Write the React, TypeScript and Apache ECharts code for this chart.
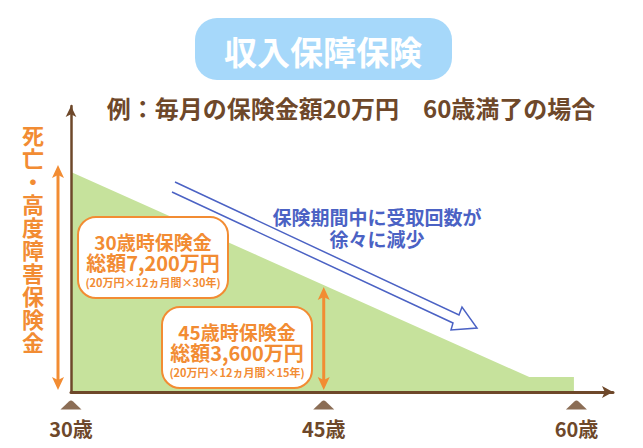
import React, { useEffect, useRef } from 'react';
import * as echarts from 'echarts';

// payout curve (age -> remaining total payout, 万円)
const ages = [30, 57.2, 59.85, 59.85];
const amounts = [7200, 490, 490, 0];

// x-axis ticks
const tickAges = [30, 45, 60];

// vertical orange arrows (age, total)
const markerAges = [30, 45];
const markerAmounts = [7200, 3600];

// callout boxes
const boxTitles = ['30歳時保険金', '45歳時保険金'];
const boxTotals = ['総額7,200万円', '総額3,600万円'];
const boxNotes = ['(20万円×12ヵ月間×30年)', '(20万円×12ヵ月間×15年)'];

const title = '収入保障保険';
const subtitle = '例：毎月の保険金額20万円　60歳満了の場合';
const yLabel = '死亡・高度障害保険金';
const trendLabel = ['保険期間中に受取回数が', '徐々に減少'];

const FONT = '"Noto Sans CJK JP", "Noto Sans", sans-serif';
const BROWN = '#6e482a';
const ORANGE = '#f28c33';
const GREEN = '#c6e29c';
const BLUE = '#4b62c4';
const SKY = '#a6d8fa';

const X_MAX = 62.17;
const Y_MAX = 9360;

const App: React.FC = () => {
  const chartRef = useRef<HTMLDivElement>(null);

  useEffect(() => {
    if (!chartRef.current) return;
    const chart = echarts.init(chartRef.current, null, { renderer: 'svg' });

    const option = {
      animation: false,
      backgroundColor: '#ffffff',
      grid: [
        { left: 71, top: 106, width: 542, height: 286 },
        { left: 71, top: 398, width: 542, height: 14 }
      ],
      xAxis: [
        {
          type: 'value',
          gridIndex: 0,
          min: 30,
          max: X_MAX,
          z: 5,
          axisLine: {
            show: true,
            lineStyle: { color: BROWN, width: 3 },
            symbol: ['none', 'arrow'],
            symbolSize: [9, 11]
          },
          axisTick: { show: false },
          splitLine: { show: false },
          axisLabel: {
            customValues: tickAges,
            formatter: (v: number) => `${v}歳`,
            color: BROWN,
            fontSize: 20,
            fontWeight: 'bold',
            fontFamily: FONT,
            margin: 26
          }
        },
        { type: 'value', gridIndex: 1, min: 30, max: X_MAX, show: false }
      ],
      yAxis: [
        {
          type: 'value',
          gridIndex: 0,
          min: 0,
          max: Y_MAX,
          z: 5,
          axisLine: {
            show: true,
            lineStyle: { color: BROWN, width: 2.5 },
            symbol: ['none', 'arrow'],
            symbolSize: [8, 11]
          },
          axisTick: { show: false },
          axisLabel: { show: false },
          splitLine: { show: false }
        },
        { type: 'value', gridIndex: 1, min: 0, max: 1, show: false }
      ],
      series: [
        {
          type: 'line',
          data: ages.map((a, i) => [a, amounts[i]]),
          symbol: 'none',
          lineStyle: { width: 0 },
          areaStyle: { color: GREEN, opacity: 1 },
          z: 1
        },
        {
          type: 'scatter',
          xAxisIndex: 1,
          yAxisIndex: 1,
          data: tickAges.map(a => [a, 0.5]),
          symbol: 'path://M0,10 L8,1.6 Q10,-0.4 12,1.6 L20,10 Z',
          symbolSize: [21, 9],
          itemStyle: { color: BROWN }
        }
      ]
    } as any;

    chart.setOption(option);

    // orange double-headed arrow
    const arrow = (x: number, y1: number, y2: number) => ({
      type: 'group',
      children: [
        {
          type: 'line',
          z: 20,
          shape: { x1: x, y1: y1 + 6, x2: x, y2: y2 - 6 },
          style: { stroke: ORANGE, lineWidth: 3 }
        },
        {
          type: 'polygon',
          z: 20,
          shape: { points: [[x, y1], [x - 6, y1 + 13], [x, y1 + 10], [x + 6, y1 + 13]] },
          style: { fill: ORANGE }
        },
        {
          type: 'polygon',
          z: 20,
          shape: { points: [[x, y2], [x - 6, y2 - 13], [x, y2 - 10], [x + 6, y2 - 13]] },
          style: { fill: ORANGE }
        }
      ]
    });

    const arrowOffsets = [[-13, -7], [0, 5]];
    const arrows = markerAges.map((age, i) => {
      const top = chart.convertToPixel({ gridIndex: 0 }, [age, markerAmounts[i]]);
      const bottom = chart.convertToPixel({ gridIndex: 0 }, [age, 0]);
      const x = top[0] + arrowOffsets[i][0];
      return arrow(x, top[1] + arrowOffsets[i][1], bottom[1] - 2);
    });

    const boxPos = [[78, 217], [162, 307]];
    const boxes = boxPos.map(([bx, by], i) => ({
      type: 'group',
      children: [
        {
          type: 'rect',
          z: 20,
          shape: { x: bx, y: by, width: 150, height: 81, r: 18 },
          style: { fill: '#ffffff', stroke: ORANGE, lineWidth: 2 }
        },
        {
          type: 'text',
          z: 21,
          x: bx + 75,
          y: by + 24,
          style: {
            text: boxTitles[i], fill: ORANGE, fontSize: 19, fontWeight: 'bold',
            fontFamily: FONT, align: 'center', verticalAlign: 'middle'
          }
        },
        {
          type: 'text',
          z: 21,
          x: bx + 75,
          y: by + 45,
          style: {
            text: boxTotals[i], fill: ORANGE, fontSize: 20, fontWeight: 'bold',
            fontFamily: FONT, align: 'center', verticalAlign: 'middle'
          }
        },
        {
          type: 'text',
          z: 21,
          x: bx + 75,
          y: by + 65,
          style: {
            text: boxNotes[i], fill: ORANGE, fontSize: 11, fontWeight: 'bold',
            fontFamily: FONT, align: 'center', verticalAlign: 'middle'
          }
        }
      ]
    }));

    chart.setOption({
      graphic: [
        {
          type: 'rect',
          shape: { x: 195, y: 18, width: 257, height: 62, r: 22 },
          style: { fill: SKY }
        },
        {
          type: 'text',
          x: 323,
          y: 51,
          style: {
            text: title, fill: '#ffffff', fontSize: 33, fontWeight: 'bold',
            fontFamily: FONT, align: 'center', verticalAlign: 'middle'
          }
        },
        {
          type: 'text',
          x: 351,
          y: 107,
          style: {
            text: subtitle, fill: BROWN, fontSize: 24, fontWeight: 'bold',
            fontFamily: FONT, align: 'center', verticalAlign: 'middle'
          }
        },
        {
          type: 'text',
          x: 33,
          y: 237,
          style: {
            text: yLabel.split('').join('\n'), fill: ORANGE, fontSize: 22, lineHeight: 23,
            fontWeight: 'bold', fontFamily: FONT, align: 'center', verticalAlign: 'middle'
          }
        },
        {
          type: 'text',
          x: 377,
          y: 227,
          z: 20,
          style: {
            text: trendLabel.join('\n'), fill: BLUE, fontSize: 19, lineHeight: 22,
            fontWeight: 'bold', fontFamily: FONT, align: 'center', verticalAlign: 'middle'
          }
        },
        {
          type: 'polyline',
          z: 20,
          shape: {
            points: [[175, 182], [459, 315], [462, 307], [477, 328], [451, 330], [453, 323], [172, 192]]
          },
          style: { stroke: BLUE, lineWidth: 1.5, fill: 'none' }
        },
        ...arrows,
        ...boxes
      ]
    } as any);

    return () => chart.dispose();
  }, []);

  return (
    <div
      ref={chartRef}
      style={{ position: 'absolute', left: 0, top: 0, width: 643, height: 448 }}
    />
  );
};

export default App;
